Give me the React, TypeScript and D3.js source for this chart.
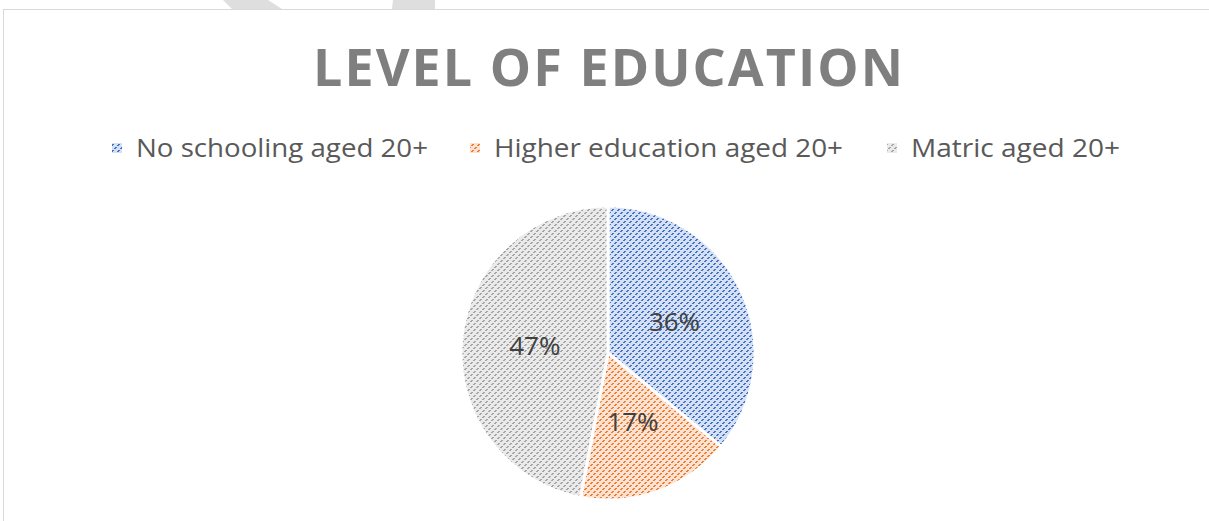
import React from "react";
import * as d3 from "d3";

const categories = ["No schooling aged 20+", "Higher education aged 20+", "Matric aged 20+"];
const values = [36, 17, 47];
const labels = ["36%", "17%", "47%"];
const fgColors = ["#4472c4", "#ed7d31", "#a5a5a5"];
const bgColors = ["#d6e0f3", "#fbe2d2", "#eaeaea"];

const W = 1209;
const H = 521;

function Pattern({ id, fg, bg }: { id: string; fg: string; bg: string }) {
  return (
    <pattern id={id} width={6} height={6} patternUnits="userSpaceOnUse">
      <rect x={0} y={0} width={6} height={6} fill={bg} />
      <rect x={4} y={0} width={2} height={1} fill={fg} />
      <rect x={3} y={1} width={2} height={1} fill={fg} />
      <rect x={1} y={3} width={2} height={1} fill={fg} />
      <rect x={0} y={4} width={2} height={1} fill={fg} />
    </pattern>
  );
}

export default function App() {
  const cx = 608;
  const cy = 353;
  const r = 147;
  const pie = d3.pie<number>().sort(null).value((d) => d);
  const arcs = pie(values);
  const arc = d3.arc<d3.PieArcDatum<number>>().innerRadius(0).outerRadius(r);

  const legendX = [112, 470, 887];
  const legendLen = [292, 349, 209];

  return (
    <svg width={W} height={H} style={{ position: "absolute", left: 0, top: 0 }}>
      <defs>
        {fgColors.map((c, i) => (
          <Pattern key={i} id={`pat${i}`} fg={c} bg={bgColors[i]} />
        ))}
      </defs>
      <rect x={0} y={0} width={W} height={H} fill="#fff" />
      <polygon points="223,0 268,0 282,9 232,9" fill="#dedede" />
      <polygon points="393,0 435,0 435,9 392,9" fill="#dedede" />
      <rect x={3.5} y={9.5} width={W + 20} height={H + 20} fill="none" stroke="#d9d9d9" strokeWidth={1} />
      <text
        x={608}
        y={86}
        textAnchor="middle"
        fontFamily="'Open Sans', 'Liberation Sans', sans-serif"
        fontWeight={700}
        fontSize={52}
        fill="#7f7f7f"
        textLength={590}
        lengthAdjust="spacing"
      >
        LEVEL OF EDUCATION
      </text>
      {categories.map((c, i) => (
        <g key={c}>
          <rect x={legendX[i]} y={143} width={10} height={10} fill={`url(#pat${i})`} />
          <text
            x={legendX[i] + 24}
            y={157}
            fontFamily="'Open Sans', 'Liberation Sans', sans-serif"
            fontSize={26}
            fill="#595959"
            textLength={legendLen[i]}
            lengthAdjust="spacingAndGlyphs"
          >
            {c}
          </text>
        </g>
      ))}
      <g transform={`translate(${cx},${cy})`}>
        {arcs.map((a, i) => (
          <path key={i} d={arc(a) || ""} fill={`url(#pat${i})`} stroke="#fff" strokeWidth={3} />
        ))}
        {arcs.map((a, i) => {
          const [lx, ly] = arc.centroid(a);
          return (
            <text
              key={i}
              x={lx}
              y={ly}
              dy="0.35em"
              textAnchor="middle"
              fontFamily="'Open Sans', 'Liberation Sans', sans-serif"
              fontSize={26}
              fill="#404040"
            >
              {labels[i]}
            </text>
          );
        })}
      </g>
    </svg>
  );
}
